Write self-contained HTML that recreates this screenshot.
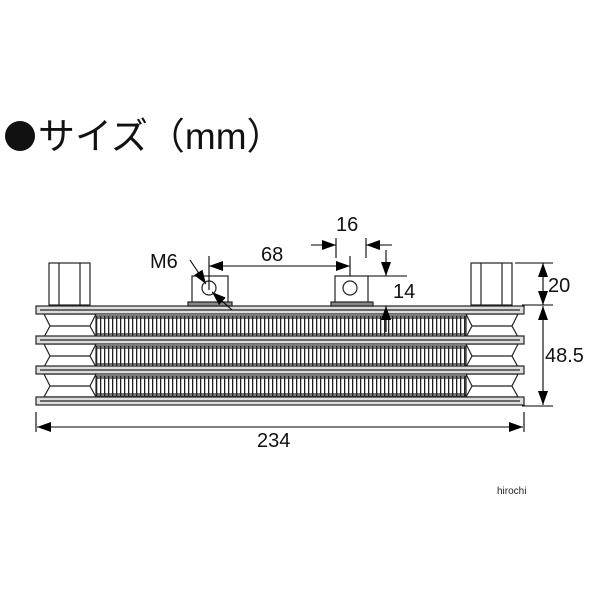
<!DOCTYPE html><html><head><meta charset="utf-8"><style>body{margin:0;background:#fff}svg{display:block}</style></head><body>
<svg width="600" height="600" viewBox="0 0 600 600" xmlns="http://www.w3.org/2000/svg" font-family="Liberation Sans, Noto Sans CJK JP, sans-serif">
<defs>
<pattern id="fin" x="96" y="0" width="4" height="40" patternUnits="userSpaceOnUse"><rect width="4" height="40" fill="#fff"/><rect x="0" width="1.3" height="40" fill="#222"/></pattern>
<marker id="a" markerWidth="14" markerHeight="10" refX="14" refY="5" orient="auto-start-reverse" markerUnits="userSpaceOnUse"><path d="M0,0L14,5L0,10z" fill="#000"/></marker>
</defs>
<circle cx="20" cy="136" r="15" fill="#111"/>
<text x="38" y="149" font-size="37" fill="#111">サイズ（mm）</text>
<g stroke="#222" stroke-width="1.2" fill="#fff">
<rect x="96" y="316" width="370" height="20" fill="url(#fin)"/>
<rect x="96" y="346" width="370" height="20" fill="url(#fin)"/>
<rect x="96" y="376" width="370" height="20" fill="url(#fin)"/>
<line x1="96" y1="318" x2="466" y2="318"/><line x1="96" y1="334" x2="466" y2="334"/>
<line x1="96" y1="348" x2="466" y2="348"/><line x1="96" y1="364" x2="466" y2="364"/>
<line x1="96" y1="378" x2="466" y2="378"/><line x1="96" y1="394" x2="466" y2="394"/>
<path d="M44,314 L96,314 L90,326 L96,337 L44,337 L50,326Z"/>
<path d="M44,344 L96,344 L90,356 L96,367 L44,367 L50,356Z"/>
<path d="M44,374 L96,374 L90,386 L96,397 L44,397 L50,386Z"/>
<line x1="50" y1="326" x2="90" y2="326"/><line x1="50" y1="356" x2="90" y2="356"/><line x1="50" y1="386" x2="90" y2="386"/>
<path d="M466,314 L518,314 L512,326 L518,337 L466,337 L472,326Z"/>
<path d="M466,344 L518,344 L512,356 L518,367 L466,367 L472,356Z"/>
<path d="M466,374 L518,374 L512,386 L518,397 L466,397 L472,386Z"/>
<line x1="472" y1="326" x2="512" y2="326"/><line x1="472" y1="356" x2="512" y2="356"/><line x1="472" y1="386" x2="512" y2="386"/>
<rect x="36" y="306" width="488" height="8" fill="#ddd"/><line x1="40" y1="310" x2="520" y2="310"/>
<rect x="36" y="336" width="488" height="8" fill="#ddd"/><line x1="40" y1="340" x2="520" y2="340"/>
<rect x="36" y="366" width="488" height="8" fill="#ddd"/><line x1="40" y1="370" x2="520" y2="370"/>
<rect x="36" y="397" width="488" height="8" fill="#ddd"/><line x1="40" y1="401" x2="520" y2="401"/>
<rect x="49" y="263" width="41" height="42"/><line x1="59" y1="263" x2="59" y2="305"/><line x1="80" y1="263" x2="80" y2="305"/>
<rect x="471" y="263" width="41" height="42"/><line x1="481" y1="263" x2="481" y2="305"/><line x1="502" y1="263" x2="502" y2="305"/>
<rect x="192" y="276" width="36" height="27"/><rect x="188" y="302" width="44" height="4" fill="#888"/><circle cx="209" cy="288" r="7"/>
<rect x="335" y="276" width="33" height="27"/><rect x="331" y="302" width="42" height="4" fill="#888"/><circle cx="350" cy="288" r="7"/>
</g>
<g stroke="#000" stroke-width="1.1" fill="none">
<line x1="209" y1="256" x2="209" y2="290"/><line x1="350" y1="256" x2="350" y2="276"/>
<line x1="209" y1="266" x2="350" y2="266" marker-start="url(#a)" marker-end="url(#a)"/>
<line x1="336" y1="238" x2="336" y2="258"/><line x1="366" y1="238" x2="366" y2="258"/>
<line x1="311" y1="245" x2="336" y2="245" marker-end="url(#a)"/><line x1="392" y1="245" x2="366" y2="245" marker-end="url(#a)"/>
<line x1="368" y1="276" x2="407" y2="276"/>
<line x1="386" y1="250" x2="386" y2="276" marker-end="url(#a)"/><line x1="386" y1="332" x2="386" y2="306" marker-end="url(#a)"/>
<line x1="190" y1="260" x2="206" y2="284" marker-end="url(#a)"/><line x1="232" y1="310" x2="212" y2="292" marker-end="url(#a)"/>
<line x1="515" y1="263" x2="553" y2="263"/><line x1="522" y1="305" x2="553" y2="305"/><line x1="522" y1="406" x2="553" y2="406"/>
<line x1="543" y1="285" x2="543" y2="263" marker-end="url(#a)"/><line x1="543" y1="285" x2="543" y2="305" marker-end="url(#a)"/>
<line x1="543" y1="306" x2="543" y2="405" marker-start="url(#a)" marker-end="url(#a)"/>
<line x1="36" y1="412" x2="36" y2="432"/><line x1="524" y1="412" x2="524" y2="432"/>
<line x1="37" y1="427" x2="523" y2="427" marker-start="url(#a)" marker-end="url(#a)"/>
</g>
<g font-size="20" fill="#111">
<text x="150" y="268">M6</text>
<text x="261" y="261">68</text>
<text x="336" y="231">16</text>
<text x="393" y="298">14</text>
<text x="548" y="292">20</text>
<text x="545" y="362">48.5</text>
<text x="257" y="447">234</text>
</g>
<text x="497" y="494" font-size="10" fill="#222">hirochi</text>
</svg>
</body></html>
